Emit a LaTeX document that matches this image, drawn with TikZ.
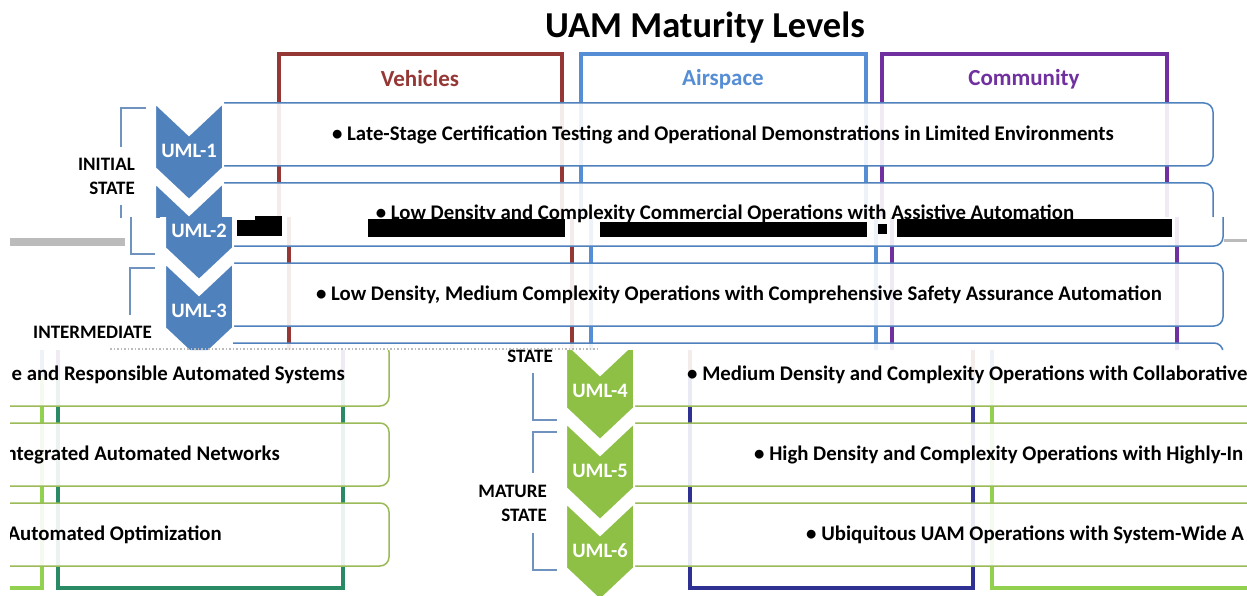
\documentclass[tikz,border=0pt]{standalone}
\usepackage{fontspec}
\setmainfont{Carlito}
\usetikzlibrary{positioning}

\definecolor{uamblue}{HTML}{4F81BD}
\definecolor{uamgreen}{HTML}{8DC044}
\definecolor{rowgreen}{HTML}{9BBB59}
\definecolor{vehred}{HTML}{953735}
\definecolor{airblue}{HTML}{558ED5}
\definecolor{compurple}{HTML}{7030A0}
\definecolor{vehnavy}{HTML}{2E3192}
\definecolor{airgreen}{HTML}{92D050}
\definecolor{comteal}{HTML}{2A8A66}
\definecolor{brackblue}{HTML}{7092BE}
\definecolor{glitchgray}{HTML}{BBBBBB}

\tikzset{
    rowbox/.style={draw=#1, line width=1.5pt, fill=white, fill opacity=0.9, rounded corners=9pt},
    rowtext/.style={font=\fontsize{20.8}{22}\selectfont\bfseries, inner sep=0pt},
    chevron/.style={fill=#1, draw=white, line width=2pt},
    umltext/.style={font=\fontsize{20.5}{22}\selectfont\bfseries, text=white, inner sep=0pt},
    colframe/.style={draw=#1, line width=4pt},
    headtext/.style={font=\fontsize{23}{25}\selectfont\bfseries, inner sep=0pt},
    titletext/.style={font=\fontsize{36.5}{38}\selectfont\bfseries, inner sep=0pt},
    sidetext/.style={font=\fontsize{19}{24}\selectfont\bfseries, align=right, anchor=east, inner sep=0pt},
    bracket/.style={draw=brackblue, line width=2pt}
}

% #1: rows k/colour, #2: chevrons k/colour
\newcommand{\uamshapes}[2]{%
        \draw[colframe=vehred] (279,376) -- (279,54) -- (562,54) -- (562,376);
        \draw[colframe=airblue] (581,376) -- (581,54) -- (866,54) -- (866,376);
        \draw[colframe=compurple] (882,376) -- (882,54) -- (1167,54) -- (1167,376);
        \draw[colframe=vehnavy] (279,376) -- (279,588) -- (562,588) -- (562,376);
        \draw[colframe=airgreen] (581,376) -- (581,588) -- (866,588) -- (866,376);
        \draw[colframe=comteal] (882,376) -- (882,588) -- (1167,588) -- (1167,376);
        \foreach \k/\col in {#1} {
            \pgfmathsetmacro\ytop{103+80*(\k-1)}
            \draw[rowbox=\col] (190,\ytop) rectangle (1213,\ytop+63);
            \fill[white] (150,\ytop-1) rectangle (223,\ytop+64.5);
        }
        \foreach \k/\col in {#2} {
            \pgfmathsetmacro\ytop{103+80*(\k-1)}
            \filldraw[chevron=\col] (155,\ytop) -- (189,\ytop+32) -- (223,\ytop) -- (223,\ytop+65)
                -- (189,\ytop+97) -- (155,\ytop+65) -- cycle;
        }
        \draw[bracket] (146,108) -- (121,108) -- (121,147);
        \draw[bracket] (121,205) -- (121,254) -- (145,254);
        \draw[bracket] (145,268) -- (120,268) -- (120,315);
        \draw[bracket] (122,373) -- (122,420) -- (146,420);
        \draw[bracket] (146,432) -- (122,432) -- (122,473);
        \draw[bracket] (122,533) -- (122,570) -- (146,570);
}

\begin{document}
\begin{tikzpicture}[x=1pt,y=-1pt]
        \useasboundingbox (0,0) rectangle (1247,596);
        \fill[white] (0,0) rectangle (1247,596);
        \begin{scope}
            \clip (0,0) rectangle (1247,217);
            \uamshapes{1/uamblue,2/uamblue,3/uamblue,4/uamblue}{1/uamblue,2/uamblue,3/uamblue}
        \end{scope}
        \begin{scope}
            \clip (0,217) rectangle (1247,350);
            \begin{scope}[xshift=10pt]
                \uamshapes{1/uamblue,2/uamblue,3/uamblue,4/uamblue}{1/uamblue,2/uamblue,3/uamblue}
            \end{scope}
        \end{scope}
        \begin{scope}
            \clip (10,350) rectangle (411,596);
            \begin{scope}[xshift=-824pt]
                \uamshapes{4/rowgreen,5/rowgreen,6/rowgreen}{4/uamgreen,5/uamgreen,6/uamgreen}
            \end{scope}
            \node[rowtext, anchor=east] (row4b) at (345,374.5) {e and Responsible Automated Systems};
            \node[rowtext, anchor=east] (row5b) at (280,454.5) {ntegrated Automated Networks};
            \node[rowtext, anchor=east] (row6b) at (222,534.5) {Automated Optimization};
        \end{scope}
        \begin{scope}
            \clip (411,350) rectangle (1247,596);
            \begin{scope}[xshift=411pt]
                \uamshapes{4/rowgreen,5/rowgreen,6/rowgreen}{4/uamgreen,5/uamgreen,6/uamgreen}
            \end{scope}
            \node[rowtext, anchor=west] (row4a) at (687,374.5) {• Medium Density and Complexity Operations with Collaborative};
            \node[rowtext, anchor=west] (row5a) at (754,454.5) {• High Density and Complexity Operations with Highly-In};
            \node[rowtext, anchor=west] (row6a) at (806,534.5) {• Ubiquitous UAM Operations with System-Wide A};
        \end{scope}
        \node[titletext] (title) at (705,28) {UAM Maturity Levels};
        \node[headtext, text=vehred] (vehicles) at (420,79) {Vehicles};
        \node[headtext, text=airblue] (airspace) at (723,79) {Airspace};
        \node[headtext, text=compurple] (community) at (1024,79) {Community};
        \node[rowtext] (row1) at (723,134.5) {• Late-Stage Certification Testing and Operational Demonstrations in Limited Environments};
        \node[rowtext] (row2) at (725,214) {• Low Density and Complexity Commercial Operations with Assistive Automation};
        \node[rowtext] (row3) at (739,294.5) {• Low Density, Medium Complexity Operations with Comprehensive Safety Assurance Automation};
        \node[umltext] (uml1) at (189,151) {UML-1};
        \node[umltext] (uml2) at (199,231) {UML-2};
        \node[umltext] (uml3) at (199,311) {UML-3};
        \node[umltext] (uml4) at (600,391) {UML-4};
        \node[umltext] (uml5) at (600,471) {UML-5};
        \node[umltext] (uml6) at (600,551) {UML-6};
        \node[sidetext] (initial) at (135,176.5) {INITIAL\\STATE};
        \node[sidetext] (intermediate) at (152,332) {INTERMEDIATE};
        \node[sidetext] (interstate) at (553,356) {STATE};
        \node[sidetext] (mature) at (547,503) {MATURE\\STATE};
        \fill[glitchgray] (10,238) rectangle (125,246);
        \fill[glitchgray] (1224,239) rectangle (1247,242);
        \fill[black] (237,220) rectangle (282,236);
        \fill[black] (255,216) rectangle (282,220);
        \fill[black] (368,219) rectangle (565,237);
        \fill[black] (600,222) rectangle (867,237);
        \fill[black] (878,224) rectangle (887,234);
        \fill[black] (897,219) rectangle (1172,237);
        \draw[glitchgray, dotted, line width=1.5pt] (110,349) -- (600,349);
\end{tikzpicture}
\end{document}
